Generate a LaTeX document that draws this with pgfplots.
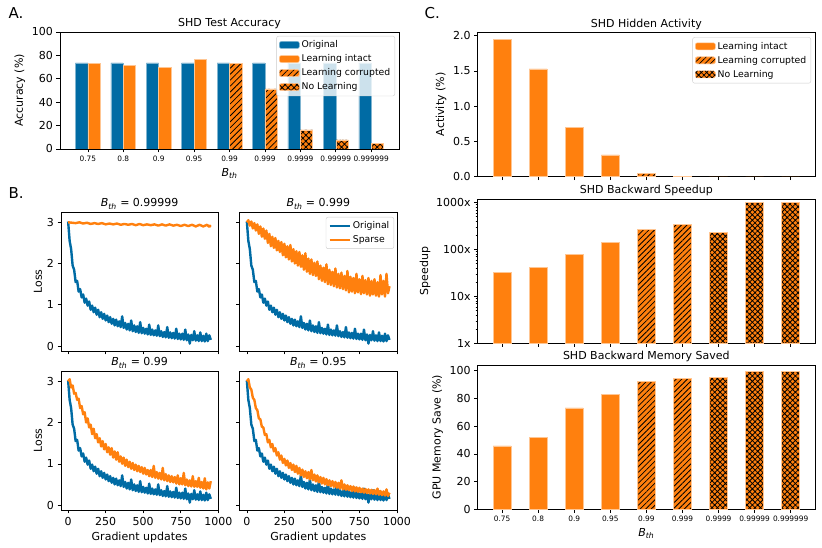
\documentclass[border=0pt]{standalone}
\usepackage{fontspec}
\setmainfont{DejaVu Sans}
\usepackage{pgfplots}
\pgfplotsset{compat=1.18}
\usepackage{pgfplotstable}
\usetikzlibrary{patterns.meta}
\definecolor{blueC}{HTML}{006BA4}
\definecolor{orangeC}{HTML}{FF800E}
\newcommand{\Bth}{\textit{B}\textsubscript{\textit{th}}}

\pgfplotstableread[row sep=\\]{x y\\ 0 3.02\\ 10 2.55\\ 20 2.35\\ 30 1.95\\ 40 1.85\\ 50 1.55\\ 60 1.58\\ 70 1.32\\ 80 1.38\\ 90 1.18\\ 100 1.25\\ 110 1.05\\ 120 1.15\\ 130 0.98\\ 140 1.08\\ 150 0.88\\ 160 0.98\\ 170 0.82\\ 180 0.93\\ 190 0.76\\ 200 0.88\\ 210 0.70\\ 220 0.82\\ 230 0.66\\ 240 0.78\\ 250 0.62\\ 260 0.74\\ 270 0.58\\ 280 0.70\\ 290 0.54\\ 300 0.66\\ 310 0.50\\ 320 0.64\\ 330 0.48\\ 340 0.60\\ 350 0.46\\ 360 0.72\\ 370 0.44\\ 380 0.56\\ 390 0.40\\ 400 0.54\\ 410 0.38\\ 420 0.62\\ 430 0.36\\ 440 0.50\\ 450 0.34\\ 460 0.48\\ 470 0.32\\ 480 0.58\\ 490 0.31\\ 500 0.44\\ 510 0.30\\ 520 0.42\\ 530 0.28\\ 540 0.52\\ 550 0.27\\ 560 0.40\\ 570 0.26\\ 580 0.38\\ 590 0.25\\ 600 0.50\\ 610 0.24\\ 620 0.36\\ 630 0.22\\ 640 0.34\\ 650 0.21\\ 660 0.46\\ 670 0.20\\ 680 0.33\\ 690 0.19\\ 700 0.32\\ 710 0.18\\ 720 0.42\\ 730 0.17\\ 740 0.30\\ 750 0.16\\ 760 0.30\\ 770 0.15\\ 780 0.40\\ 790 0.14\\ 800 0.28\\ 810 0.06\\ 820 0.27\\ 830 0.14\\ 840 0.36\\ 850 0.13\\ 860 0.26\\ 870 0.12\\ 880 0.33\\ 890 0.12\\ 900 0.25\\ 910 0.11\\ 920 0.30\\ 930 0.12\\ 940 0.26\\ 950 0.15\\}\orig

\pgfplotstableread[row sep=\\]{x y\\ 0 3.00\\ 25 2.99\\ 50 2.98\\ 75 3.00\\ 100 2.97\\ 125 2.99\\ 150 2.96\\ 175 2.98\\ 200 2.96\\ 225 2.98\\ 250 2.95\\ 275 2.97\\ 300 2.95\\ 325 2.97\\ 350 2.94\\ 375 2.96\\ 400 2.94\\ 425 2.96\\ 450 2.93\\ 475 2.96\\ 500 2.93\\ 525 2.95\\ 550 2.93\\ 575 2.95\\ 600 2.92\\ 625 2.95\\ 650 2.92\\ 675 2.95\\ 700 2.92\\ 725 2.94\\ 750 2.91\\ 775 2.94\\ 800 2.91\\ 825 2.94\\ 850 2.90\\ 875 2.94\\ 900 2.90\\ 925 2.94\\ 940 2.89\\ 950 2.93\\}\spA

\pgfplotstableread[row sep=\\]{x y\\ 0 3.00\\ 10 3.05\\ 20 2.92\\ 30 3.02\\ 40 2.85\\ 50 2.98\\ 60 2.80\\ 70 2.95\\ 80 2.72\\ 90 2.90\\ 100 2.65\\ 110 2.85\\ 120 2.60\\ 130 2.80\\ 140 2.50\\ 150 2.72\\ 160 2.42\\ 170 2.65\\ 180 2.38\\ 190 2.62\\ 200 2.32\\ 210 2.55\\ 220 2.28\\ 230 2.52\\ 240 2.20\\ 250 2.48\\ 260 2.15\\ 270 2.42\\ 280 2.10\\ 290 2.45\\ 300 2.05\\ 310 2.35\\ 320 2.00\\ 330 2.30\\ 340 1.95\\ 350 2.28\\ 360 1.92\\ 370 2.20\\ 380 1.85\\ 390 2.25\\ 400 1.80\\ 410 2.12\\ 420 1.75\\ 430 2.10\\ 440 1.72\\ 450 2.02\\ 460 1.70\\ 470 2.05\\ 480 1.62\\ 490 1.95\\ 500 1.58\\ 510 1.90\\ 520 1.55\\ 530 1.98\\ 540 1.50\\ 550 1.85\\ 560 1.48\\ 570 1.80\\ 580 1.45\\ 590 1.88\\ 600 1.42\\ 610 1.75\\ 620 1.40\\ 630 1.78\\ 640 1.38\\ 650 1.70\\ 660 1.35\\ 670 1.82\\ 680 1.30\\ 690 1.68\\ 700 1.32\\ 710 1.65\\ 720 1.28\\ 730 1.75\\ 740 1.30\\ 750 1.62\\ 760 1.26\\ 770 1.70\\ 780 1.28\\ 790 1.60\\ 800 1.25\\ 810 1.65\\ 820 1.22\\ 830 1.58\\ 840 1.25\\ 850 1.62\\ 860 1.22\\ 870 1.55\\ 880 1.20\\ 890 1.72\\ 900 1.25\\ 910 1.58\\ 920 1.20\\ 930 1.75\\ 940 1.28\\ 950 1.45\\}\spB

\pgfplotstableread[row sep=\\]{x y\\ 0 3.00\\ 10 3.05\\ 20 2.85\\ 30 2.90\\ 40 2.70\\ 50 2.72\\ 60 2.55\\ 70 2.58\\ 80 2.35\\ 90 2.40\\ 100 2.20\\ 110 2.25\\ 120 2.00\\ 130 2.10\\ 140 1.88\\ 150 1.95\\ 160 1.72\\ 170 1.85\\ 180 1.62\\ 190 1.72\\ 200 1.52\\ 210 1.62\\ 220 1.42\\ 230 1.55\\ 240 1.35\\ 250 1.48\\ 260 1.28\\ 270 1.40\\ 280 1.22\\ 290 1.38\\ 300 1.15\\ 310 1.30\\ 320 1.10\\ 330 1.28\\ 340 1.05\\ 350 1.18\\ 360 1.00\\ 370 1.15\\ 380 0.95\\ 390 1.10\\ 400 0.92\\ 410 1.05\\ 420 0.88\\ 430 1.02\\ 440 0.85\\ 450 0.98\\ 460 0.82\\ 470 0.95\\ 480 0.80\\ 490 0.92\\ 500 0.76\\ 510 0.90\\ 520 0.74\\ 530 0.85\\ 540 0.70\\ 550 0.85\\ 560 0.68\\ 570 0.95\\ 580 0.66\\ 590 0.80\\ 600 0.64\\ 610 0.78\\ 620 0.62\\ 630 0.90\\ 640 0.60\\ 650 0.75\\ 660 0.58\\ 670 0.72\\ 680 0.56\\ 690 0.70\\ 700 0.55\\ 710 0.68\\ 720 0.52\\ 730 0.72\\ 740 0.50\\ 750 0.65\\ 760 0.50\\ 770 0.78\\ 780 0.48\\ 790 0.62\\ 800 0.46\\ 810 0.60\\ 820 0.45\\ 830 0.70\\ 840 0.44\\ 850 0.58\\ 860 0.44\\ 870 0.66\\ 880 0.42\\ 890 0.56\\ 900 0.40\\ 910 0.65\\ 920 0.38\\ 930 0.55\\ 940 0.40\\ 950 0.58\\}\spC

\pgfplotstableread[row sep=\\]{x y\\ 0 3.00\\ 10 3.05\\ 20 2.85\\ 30 2.80\\ 40 2.60\\ 50 2.55\\ 60 2.35\\ 70 2.30\\ 80 2.10\\ 90 2.08\\ 100 1.90\\ 110 1.88\\ 120 1.70\\ 130 1.72\\ 140 1.52\\ 150 1.58\\ 160 1.40\\ 170 1.48\\ 180 1.30\\ 190 1.38\\ 200 1.20\\ 210 1.28\\ 220 1.10\\ 230 1.20\\ 240 1.02\\ 250 1.12\\ 260 0.96\\ 270 1.08\\ 280 0.90\\ 290 1.02\\ 300 0.85\\ 310 0.98\\ 320 0.80\\ 330 0.95\\ 340 0.76\\ 350 0.90\\ 360 0.72\\ 370 0.86\\ 380 0.68\\ 390 0.82\\ 400 0.65\\ 410 0.80\\ 420 0.62\\ 430 0.85\\ 440 0.60\\ 450 0.74\\ 460 0.57\\ 470 0.72\\ 480 0.55\\ 490 0.68\\ 500 0.52\\ 510 0.66\\ 520 0.50\\ 530 0.63\\ 540 0.48\\ 550 0.60\\ 560 0.46\\ 570 0.58\\ 580 0.44\\ 590 0.56\\ 600 0.42\\ 610 0.54\\ 620 0.40\\ 630 0.60\\ 640 0.38\\ 650 0.50\\ 660 0.37\\ 670 0.48\\ 680 0.36\\ 690 0.46\\ 700 0.34\\ 710 0.45\\ 720 0.33\\ 730 0.43\\ 740 0.32\\ 750 0.42\\ 760 0.31\\ 770 0.40\\ 780 0.30\\ 790 0.39\\ 800 0.29\\ 810 0.38\\ 820 0.28\\ 830 0.37\\ 840 0.27\\ 850 0.36\\ 860 0.26\\ 870 0.40\\ 880 0.25\\ 890 0.34\\ 900 0.24\\ 910 0.33\\ 920 0.23\\ 930 0.38\\ 940 0.22\\ 950 0.30\\}\spD

\pgfplotsset{
  base/.style={
    scale only axis,
    axis line style={line width=0.6pt},
    tick align=outside,
    tick pos=left,
    major tick length=3.5pt,
    minor tick length=2pt,
    every tick/.style={black, line width=0.6pt},
    tick label style={font=\fontsize{11}{12}\selectfont},
    label style={font=\fontsize{11}{12}\selectfont},
    every axis title/.style={at={(0.5,1)}, anchor=base, yshift=5pt, font=\fontsize{11}{12}\selectfont},
    /pgf/number format/assume math mode=true,
    /pgf/number format/1000 sep={},
    enlargelimits=false,
  },
  lossax/.style={base, width=157.3pt, height=139pt, xmin=-47.5, xmax=1000, ymin=-0.12, ymax=3.25,
    xtick={0,250,500,750,1000}, ytick={0,1,2,3}, ylabel style={yshift=-2pt}},
  barax/.style={base, xmin=-0.675, xmax=8.675, xtick={0,...,8}, width=337.3pt, height=144.4pt},
  catlabels/.style={xticklabels={0.75,0.8,0.9,0.95,0.99,0.999,0.9999,0.99999,0.999999},
    xticklabel style={font=\fontsize{7.4}{8}\selectfont}},
  mylegend/.style={legend style={draw=black!20, rounded corners=2pt, fill=white, fill opacity=0.8,
    draw opacity=1, text opacity=1, font=\fontsize{9.3}{11}\selectfont, cells={anchor=west},
    inner sep=2.5pt, row sep=1.5pt}},
  patchleg/.style={legend image code/.code={\draw[##1, fill opacity=1, draw opacity=1] (0pt,-3.5pt) rectangle (20pt,3.5pt);}},
  lineleg/.style={legend image code/.code={\draw[##1, draw opacity=1] (0pt,0pt) -- (20pt,0pt);}},
  ob/.style={ybar, fill=orangeC, draw=orangeC!45!white, line width=0.5pt, patchleg},
  hatchA/.style={postaction={pattern={Lines[angle=45,distance=4.2pt,line width=0.8pt]}}},
  crossA/.style={postaction={pattern={Hatch[angle=45,distance=4.2pt,line width=0.8pt]}}},
  hatchC/.style={postaction={pattern={Lines[angle=45,distance=3.9pt,line width=0.8pt]}}},
  crossC/.style={postaction={pattern={Hatch[angle=45,distance=3.8pt,line width=0.8pt]}}},
  lossline/.style={line width=2.4pt, line join=round},
}

\begin{document}
\begin{tikzpicture}
\useasboundingbox (0,0) rectangle (822pt,548pt);

\node[anchor=base west, font=\fontsize{15}{16}\selectfont] at (5pt,529.7pt) {A.};
\node[anchor=base west, font=\fontsize{15}{16}\selectfont] at (5pt,349.7pt) {B.};
\node[anchor=base west, font=\fontsize{15}{16}\selectfont] at (421pt,529.7pt) {C.};

% ---------- Panel A ----------
\begin{axis}[base, at={(60pt,399pt)}, anchor=south west, width=339pt, height=117pt,
  xmin=-0.785, xmax=8.785, ymin=0, ymax=100, ytick={0,20,...,100}, xtick={0,...,8}, catlabels,
  title={SHD Test Accuracy}, ylabel={Accuracy (\%)}, xlabel={\Bth}, mylegend,
  legend style={at={(1,1)}, anchor=north east, xshift=-4pt, yshift=-4pt}]
\addplot[ybar, bar width=0.35, bar shift=-0.175, fill=blueC, draw=blueC!50!white, line width=0.5pt, patchleg]
  coordinates {(0,73.7) (1,73.7) (2,73.7) (3,73.7) (4,73.7) (5,73.7) (6,73.7) (7,73.7) (8,73.7)};
\addlegendentry{Original}
\addplot[ob, bar width=0.35, bar shift=0.175]
  coordinates {(0,72.9) (1,71.5) (2,69.5) (3,76.3)};
\addlegendentry{Learning intact}
\addplot[ob, hatchA, bar width=0.35, bar shift=0.175]
  coordinates {(4,72.9) (5,51.4)};
\addlegendentry{Learning corrupted}
\addplot[ob, crossA, bar width=0.35, bar shift=0.175]
  coordinates {(6,16.3) (7,7.7) (8,5.1)};
\addlegendentry{No Learning}
\end{axis}

% ---------- Panel B ----------
\begin{axis}[lossax, at={(61pt,197pt)}, anchor=south west, title={\Bth{} = 0.99999},
  ylabel={Loss}, xticklabels=\empty]
\addplot[blueC, lossline] table {\orig};
\addplot[orangeC, lossline] table {\spA};
\end{axis}

\begin{axis}[lossax, at={(239.7pt,197pt)}, anchor=south west, title={\Bth{} = 0.999},
  xticklabels=\empty, yticklabels=\empty, mylegend,
  legend style={at={(1,1)}, anchor=north east, xshift=-3pt, yshift=-5pt}]
\addplot[blueC, lossline, lineleg] table {\orig};
\addlegendentry{Original}
\addplot[orangeC, lossline, lineleg] table {\spB};
\addlegendentry{Sparse}
\end{axis}

\begin{axis}[lossax, at={(61pt,38pt)}, anchor=south west, title={\Bth{} = 0.99},
  ylabel={Loss}, xlabel={Gradient updates}]
\addplot[blueC, lossline] table {\orig};
\addplot[orangeC, lossline] table {\spC};
\end{axis}

\begin{axis}[lossax, at={(239.7pt,38pt)}, anchor=south west, title={\Bth{} = 0.95},
  yticklabels=\empty, xlabel={Gradient updates}]
\addplot[blueC, lossline] table {\orig};
\addplot[orangeC, lossline] table {\spD};
\end{axis}

% ---------- Panel C ----------
\begin{axis}[barax, at={(477.7pt,371.3pt)}, anchor=south west, ymin=0, ymax=2.0475,
  ytick={0,0.5,1,1.5,2}, xticklabels=\empty,
  yticklabel style={/pgf/number format/.cd, fixed, fixed zerofill, precision=1},
  title={SHD Hidden Activity}, ylabel={Activity (\%)}, mylegend,
  legend style={at={(1,1)}, anchor=north east, xshift=-4pt, yshift=-5pt}]
\addplot[ob, bar width=0.5, bar shift=0] coordinates {(0,1.95) (1,1.53) (2,0.70) (3,0.31)};
\addlegendentry{Learning intact}
\addplot[ob, hatchC, bar width=0.5, bar shift=0] coordinates {(4,0.05) (5,0.008)};
\addlegendentry{Learning corrupted}
\addplot[ob, crossC, bar width=0.5, bar shift=0, draw=none] coordinates {(6,0.0001) (7,0.0001) (8,0.0001)};
\addlegendentry{No Learning}
\end{axis}

\begin{axis}[barax, at={(477.7pt,204.7pt)}, anchor=south west, ymode=log, ymin=1, ymax=1200,
  ytick={1,10,100,1000}, yticklabels={1x,10x,100x,1000x}, xticklabels=\empty,
  extra y ticks={2,3,4,5,6,7,8,9,20,30,40,50,60,70,80,90,200,300,400,500,600,700,800,900},
  extra y tick labels={},
  extra y tick style={major tick length=2pt, tick pos=left, ytick pos=left},
  every axis y label/.style={at={(axis description cs:-0.156,0.5)}, rotate=90, anchor=center,
    font=\fontsize{11}{12}\selectfont},
  title={SHD Backward Speedup}, ylabel={Speedup}]
\addplot[ob, bar width=0.5, bar shift=0] coordinates {(0,32.5) (1,41) (2,79.5) (3,143)};
\addplot[ob, hatchC, bar width=0.5, bar shift=0] coordinates {(4,267) (5,345)};
\addplot[ob, crossC, bar width=0.5, bar shift=0] coordinates {(6,233) (7,1015) (8,1000)};
\end{axis}

\begin{axis}[barax, at={(477.7pt,38.7pt)}, anchor=south west, ymin=0, ymax=104.2,
  ytick={0,20,...,100}, catlabels,
  title={SHD Backward Memory Saved}, ylabel={GPU Memory Save (\%)}, xlabel={\Bth}]
\addplot[ob, bar width=0.5, bar shift=0] coordinates {(0,45.7) (1,51.9) (2,73.1) (3,83.0)};
\addplot[ob, hatchC, bar width=0.5, bar shift=0] coordinates {(4,92.2) (5,94.5)};
\addplot[ob, crossC, bar width=0.5, bar shift=0] coordinates {(6,95.2) (7,99.4) (8,99.4)};
\end{axis}

\end{tikzpicture}
\end{document}
